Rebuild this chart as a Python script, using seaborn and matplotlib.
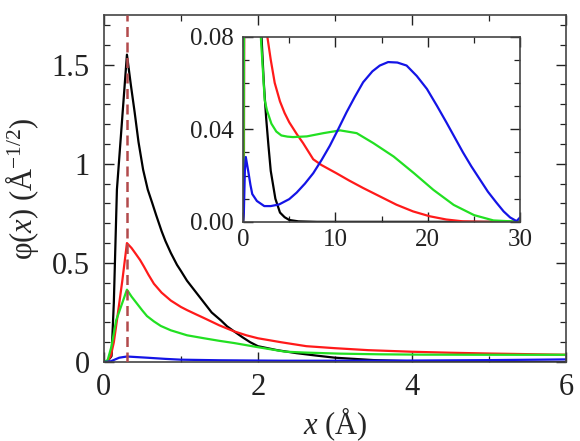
import numpy as np
import pandas as pd
import seaborn as sns
import matplotlib.pyplot as plt
from matplotlib.ticker import MultipleLocator

# wavefunction samples (x in Angstrom)
black_x = [0, 0.05, 0.1, 0.13, 0.17, 0.3, 0.35, 0.4, 0.45, 0.51, 0.57, 0.63, 0.68, 0.75, 0.8,
           0.87, 0.95, 1.0, 1.08, 1.2, 1.3, 1.4, 1.52, 1.6, 1.69, 1.8, 1.9, 2.0, 2.25, 2.5,
           2.75, 3.0, 3.5, 4.0, 4.5, 5.0, 6.0, 8.0, 30.0]
black_y = [0, 0.005, 0.03, 0.3, 0.87, 1.55, 1.40, 1.26, 1.11, 0.97, 0.87, 0.80, 0.74, 0.66, 0.61,
           0.55, 0.49, 0.46, 0.41, 0.35, 0.30, 0.25, 0.21, 0.18, 0.155, 0.125, 0.10, 0.08,
           0.06, 0.045, 0.033, 0.022, 0.01, 0.004, 0.002, 0.0008, 0.0002, 0, 0]

red_x = [0, 0.05, 0.09, 0.13, 0.17, 0.24, 0.3, 0.36, 0.41, 0.47, 0.52, 0.58, 0.65, 0.75, 0.87,
         1.0, 1.08, 1.2, 1.3, 1.5, 1.69, 1.85, 2.0, 2.3, 2.63, 3.0, 3.43, 4.0, 4.5, 5.0, 5.8,
         6.5, 7.6, 8.5, 10.1, 11.5, 13.0, 14.8, 16.6, 18.4, 20.2, 22.0, 23.8, 26.0, 30.0]
red_y = [0, 0.005, 0.03, 0.10, 0.21, 0.41, 0.60, 0.575, 0.548, 0.515, 0.482, 0.44, 0.395, 0.35,
         0.31, 0.278, 0.262, 0.24, 0.222, 0.185, 0.155, 0.135, 0.12, 0.10, 0.08, 0.07, 0.06,
         0.052, 0.047, 0.043, 0.038, 0.034, 0.027, 0.0245, 0.021, 0.0178, 0.0146, 0.011,
         0.0074, 0.0045, 0.0024, 0.001, 0.0002, 0, 0]

green_x = [0, 0.05, 0.1, 0.16, 0.3, 0.36, 0.43, 0.5, 0.56, 0.65, 0.74, 0.87, 1.08, 1.3, 1.5,
           1.69, 2.0, 2.35, 2.6, 3.07, 3.6, 4.15, 4.8, 5.4, 6.9, 8.7, 10.5, 12.3, 14.1, 16.3,
           18.5, 20.6, 22.8, 25.0, 27.1, 30.0]
green_y = [0, 0.01, 0.08, 0.21, 0.365, 0.33, 0.295, 0.26, 0.232, 0.205, 0.182, 0.16, 0.135,
           0.12, 0.107, 0.096, 0.075, 0.0525, 0.048, 0.0424, 0.039, 0.0373, 0.0368, 0.0366,
           0.0369, 0.0383, 0.0395, 0.0383, 0.034, 0.0282, 0.021, 0.0138, 0.0073, 0.0029,
           0.0006, 0]

blue_x = [0, 0.09, 0.2, 0.3, 0.56, 0.8, 1.0, 1.5, 2.3, 3.0, 3.9, 5.0, 5.8, 6.7, 7.6, 8.5, 9.4,
          10.3, 11.2, 12.1, 13.0, 14.0, 14.8, 15.7, 16.7, 17.7, 18.8, 19.9, 21.0, 22.0, 22.9,
          23.8, 24.7, 25.6, 26.5, 27.4, 28.2, 28.9, 29.6, 30.0]
blue_y = [0, 0.004, 0.022, 0.028, 0.022, 0.016, 0.012, 0.009, 0.0068, 0.0068, 0.0075, 0.0098,
          0.0126, 0.0165, 0.021, 0.0267, 0.0329, 0.040, 0.0473, 0.054, 0.0603, 0.065, 0.0675,
          0.069, 0.0688, 0.0675, 0.063, 0.0574, 0.050, 0.043, 0.0365, 0.030, 0.024, 0.0185,
          0.013, 0.0084, 0.0045, 0.0019, 0.0003, 0.002]

x_peak = 0.3

curves = [
    (black_x, black_y, "#000000"),
    (red_x, red_y, "#ff1a1a"),
    (green_x, green_y, "#22e022"),
    (blue_x, blue_y, "#1414e6"),
]

sns.set_style("ticks")
plt.rcParams["font.family"] = ["Liberation Serif", "DejaVu Serif"]
plt.rcParams["mathtext.fontset"] = "custom"
plt.rcParams["mathtext.rm"] = "Liberation Serif"
plt.rcParams["mathtext.it"] = "Liberation Serif:italic"
plt.rcParams["axes.edgecolor"] = "#444444"

fig = plt.figure(figsize=(5.8, 4.41), dpi=100)
ax = fig.add_axes([0.179, 0.179, 0.797, 0.787])
ins = fig.add_axes([0.419, 0.497, 0.478, 0.420])


def style_axes(a, size, pad_x, pad_y):
    a.tick_params(which="both", direction="in", top=True, right=True, colors="#222222")
    a.tick_params(which="major", length=7, width=1.0)
    a.tick_params(which="minor", length=4, width=0.9)
    a.tick_params(axis="x", labelsize=size, pad=pad_x)
    a.tick_params(axis="y", labelsize=size, pad=pad_y)
    for s in a.spines.values():
        s.set_linewidth(1.2)


for xs, ys, c in curves:
    df = pd.DataFrame({"x": xs, "y": ys})
    sns.lineplot(data=df, x="x", y="y", color=c, lw=1.6, ax=ax, estimator=None, sort=False)
    sns.lineplot(data=df, x="x", y="y", color=c, lw=1.6, ax=ins, estimator=None, sort=False)

ax.axvline(x_peak, color="#b24a4c", lw=1.8, dashes=(4, 2.2), zorder=3)

ax.set_xlim(0, 6)
ax.set_ylim(0, 1.75)
ax.xaxis.set_major_locator(MultipleLocator(2))
ax.xaxis.set_minor_locator(MultipleLocator(1))
ax.yaxis.set_minor_locator(MultipleLocator(0.1))
ax.set_yticks([0, 0.5, 1, 1.5])
ax.set_yticklabels(["0", "0.5", "1", "1.5"])
style_axes(ax, 22, 8, 10)
ax.set_xlabel(r"$x$ (Å)", fontsize=22, labelpad=2)
ax.set_ylabel(r"φ($x$) (Å$^{-1/2}$)", fontsize=22, labelpad=8)

ins.set_xlim(0, 30)
ins.set_ylim(0, 0.08)
ins.xaxis.set_major_locator(MultipleLocator(10))
ins.xaxis.set_minor_locator(MultipleLocator(5))
ins.set_yticks([0, 0.04, 0.08])
ins.set_yticklabels(["0.00", "0.04", "0.08"])
ins.yaxis.set_minor_locator(MultipleLocator(0.01))
style_axes(ins, 18, 5, 7)
ins.set_xlabel("")
ins.set_ylabel("")

fig.savefig("out.png", dpi=100)
